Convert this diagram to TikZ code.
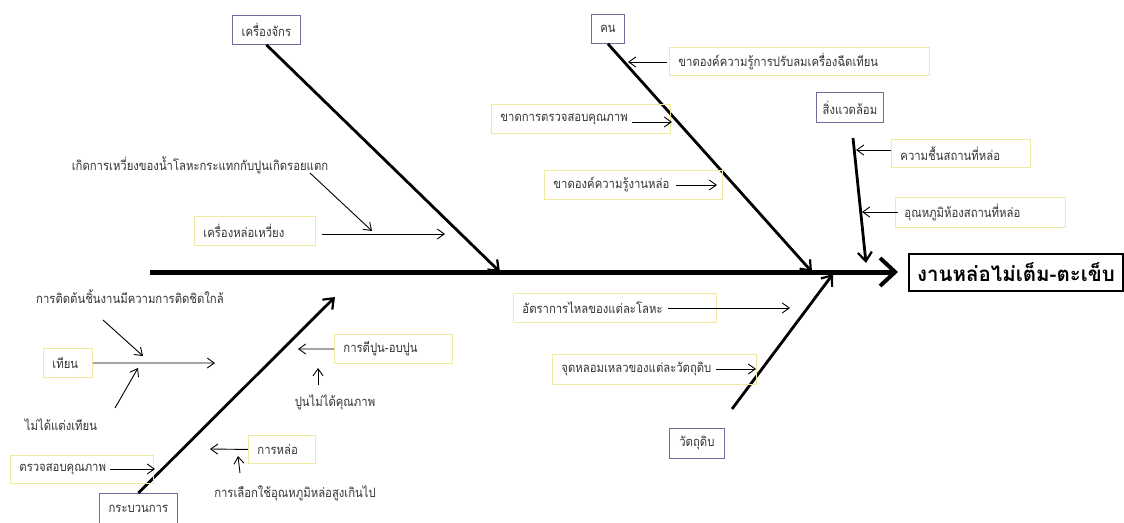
\documentclass[tikz,border=0pt]{standalone}
\usepackage{fontspec}
\newfontfamily\thai[Script=Thai,FakeStretch=0.87]{Loma}
\newfontfamily\thaibig[Script=Thai]{Loma}
\usetikzlibrary{arrows.meta}
\definecolor{catborder}{HTML}{6E6E9E}
\definecolor{subborder}{HTML}{F0EAA0}
\definecolor{txt}{HTML}{333333}
\tikzset{
  x=1pt,y=-1pt,
  base/.style={font=\thai\fontsize{13}{15}\selectfont, text=txt},
  cat/.style={base, draw=catborder, line width=0.8pt, anchor=north west, inner sep=0pt},
  sub/.style={base, draw=subborder, line width=0.9pt, anchor=north west, inner xsep=9pt, inner ysep=0pt, align=left},
  plain/.style={base, inner sep=0pt},
  bone/.style={line width=2.8pt, -{Straight Barb[length=9pt,width=14pt,line width=2.2pt]}},
  arr/.style={line width=0.9pt, -{Straight Barb[length=7pt,width=10pt,line width=0.9pt]}},
}
\begin{document}
\begin{tikzpicture}
\useasboundingbox (0,0) rectangle (1124,522);
% effect and spine
\node[draw, line width=2pt, anchor=north west, minimum width=214pt, minimum height=37pt, inner sep=0pt,
      font=\thaibig\bfseries\fontsize{20.5}{24}\selectfont] (effect) at (908,253) {งานหล่อไม่เต็ม-ตะเข็บ};
\coordinate (spst) at (150,272);
\coordinate (sptip) at (898,272);
\draw[line width=5pt, -{Straight Barb[length=15pt,width=28pt,line width=4pt]}] (spst) -- (sptip);

% categories
\node[cat, minimum width=68pt, minimum height=29pt] (mach) at (232,15) {เครื่องจักร};
\node[cat, minimum width=33pt, minimum height=29pt] (man) at (591,14) {คน};
\node[cat, minimum width=67pt, minimum height=30pt] (env) at (816,92) {สิ่งแวดล้อม};
\node[cat, minimum width=78pt, minimum height=31pt] (proc) at (99,493) {กระบวนการ};
\node[cat, minimum width=55pt, minimum height=30pt] (mat) at (669,428) {วัตถุดิบ};

% bones
\coordinate (e1) at (500,272);
\coordinate (e2) at (812,272);
\coordinate (e3s) at (853,138);
\coordinate (e3) at (866,263);
\coordinate (e4) at (335,297);
\coordinate (e5s) at (732,409);
\coordinate (e5) at (833,274);
\draw[bone] (mach.south) -- (e1);
\draw[bone] (man.south) -- (e2);
\draw[bone] (e3s) -- (e3);
\draw[bone] (proc.north) -- (e4);
\draw[bone] (e5s) -- (e5);

% machine
\node[sub, text width=103pt, minimum height=29pt] (s1) at (194,216) {เครื่องหล่อเหวี่ยง};
\node[plain] (p1) at (200,165) {เกิดการเหวี่ยงของน้ำโลหะกระแทกกับปูนเกิดรอยแตก};
\coordinate (a1s) at (322,234); \coordinate (a1e) at (445,234);
\draw[arr] (a1s) -- (a1e);
\coordinate (a2s) at (310,173); \coordinate (a2e) at (372,231);
\draw[arr] (a2s) -- (a2e);

% man
\node[sub, text width=242pt, minimum height=28pt] (s2) at (669,47) {ขาดองค์ความรู้การปรับลมเครื่องฉีดเทียน};
\coordinate (a3s) at (667,62); \coordinate (a3e) at (628,62);
\draw[arr] (a3s) -- (a3e);
\node[sub, text width=161pt, minimum height=29pt] (s3) at (491,104) {ขาดการตรวจสอบคุณภาพ};
\coordinate (a4s) at (632,122); \coordinate (a4e) at (672,122);
\draw[arr] (a4s) -- (a4e);
\node[sub, text width=160pt, minimum height=29pt] (s4) at (544,170) {ขาดองค์ความรู้งานหล่อ};
\coordinate (a5s) at (676,185); \coordinate (a5e) at (717,185);
\draw[arr] (a5s) -- (a5e);

% environment
\node[sub, text width=121pt, minimum height=28pt] (s5) at (891,139) {ความชื้นสถานที่หล่อ};
\coordinate (a6s) at (891,150); \coordinate (a6e) at (856,150);
\draw[arr] (a6s) -- (a6e);
\node[sub, text width=152pt, minimum height=30pt] (s6) at (895,197) {อุณหภูมิห้องสถานที่หล่อ};
\coordinate (a7s) at (898,212); \coordinate (a7e) at (862,212);
\draw[arr] (a7s) -- (a7e);

% process
\node[plain] (p2) at (130,297) {การติดต้นชิ้นงานมีความการติดชิดใกล้};
\coordinate (a8s) at (103,320); \coordinate (a8e) at (143,356);
\draw[arr] (a8s) -- (a8e);
\node[sub, text width=31pt, minimum height=29pt] (s9) at (43,348) {เทียน};
\coordinate (a9e) at (215,363);
\draw[arr] (s9.east) -- (a9e);
\node[plain] (p3) at (61,425) {ไม่ได้แต่งเทียน};
\coordinate (a10s) at (115,408); \coordinate (a10e) at (138,368);
\draw[arr] (a10s) -- (a10e);
\node[sub, text width=125pt, minimum height=28pt] (s10) at (10,455) {ตรวจสอบคุณภาพ};
\coordinate (a11s) at (110,469); \coordinate (a11e) at (155,469);
\draw[arr] (a11s) -- (a11e);
\node[sub, text width=100pt, minimum height=29pt] (s7) at (334,334) {การตีปูน-อบปูน};
\coordinate (a12e) at (298,349);
\draw[arr] (s7.west) -- (a12e);
\node[plain] (p4) at (335,402) {ปูนไม่ได้คุณภาพ};
\coordinate (a13s) at (318,385); \coordinate (a13e) at (318,368);
\draw[arr] (a13s) -- (a13e);
\node[sub, text width=49pt, minimum height=28pt] (s8) at (248,435) {การหล่อ};
\coordinate (a14e) at (210,449);
\draw[arr] (s8.west) -- (a14e);
\node[plain] (p5) at (295,493) {การเลือกใช้อุณหภูมิหล่อสูงเกินไป};
\coordinate (a15s) at (240,473); \coordinate (a15e) at (238,456);
\draw[arr] (a15s) -- (a15e);

% material
\node[sub, text width=185pt, minimum height=29pt] (s11) at (513,293) {อัตราการไหลของแต่ละโลหะ};
\coordinate (a16s) at (668,308); \coordinate (a16e) at (790,308);
\draw[arr] (a16s) -- (a16e);
\node[sub, text width=186pt, minimum height=30pt] (s12) at (552,354) {จุดหลอมเหลวของแต่ละวัตถุดิบ};
\coordinate (a17s) at (716,369); \coordinate (a17e) at (756,369);
\draw[arr] (a17s) -- (a17e);
\end{tikzpicture}
\end{document}
